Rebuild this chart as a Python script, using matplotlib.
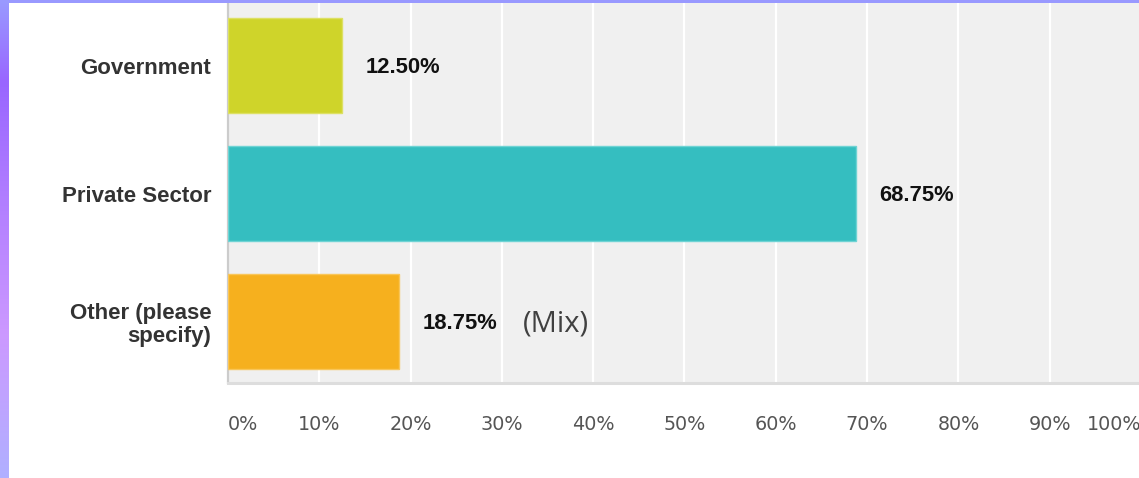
import matplotlib
matplotlib.use("Agg")
import matplotlib.pyplot as plt
import numpy as np
from matplotlib.colors import LinearSegmentedColormap

# survey answers, top to bottom
categories = ["Government", "Private Sector", "Other (please\nspecify)"]
values = [12.50, 68.75, 18.75]
bar_colors = ["#cfd42a", "#35bec0", "#f6b01e"]
edge_colors = ["#dde063", "#6fd3d4", "#f9c659"]
ticks = [0, 10, 20, 30, 40, 50, 60, 70, 80, 90, 100]
tick_labels = [f"{t}%" for t in ticks]
note = "(Mix)"

W, H = 1139, 478
fig = plt.figure(figsize=(W / 100, H / 100), dpi=100)
fig.patch.set_facecolor("white")

# plot area: 0% at x=228, 100% at x=1141, bottom axis at y=383
ax = fig.add_axes([228 / W, 1 - 383 / H, 913 / W, 383 / H])
ax.set_facecolor("#f0f0f0")

y = np.arange(len(categories))
ax.barh(y, values, height=0.742, color=bar_colors, edgecolor=edge_colors,
        linewidth=1.0, zorder=3)

ax.set_xlim(0, 100)
ax.set_ylim(2.480, -0.512)

# grid
ax.set_xticks(ticks)
ax.xaxis.grid(True, color="white", linewidth=1.6, zorder=1)
ax.set_axisbelow(True)
ax.tick_params(axis="x", length=0, pad=23, labelsize=13.8, labelcolor="#555555")
ax.set_xticklabels(tick_labels, family="DejaVu Sans")
xl = ax.get_xticklabels()
xl[0].set_horizontalalignment("left")
xl[-1].set_horizontalalignment("right")
xl[-1].set_x(0.998)

ax.set_yticks(y)
ax.set_yticklabels(categories, family="Liberation Sans", fontweight="bold",
                   fontsize=16, color="#333333", multialignment="right",
                   linespacing=1.12)
ax.tick_params(axis="y", length=0, pad=12)

for s in ("top", "right"):
    ax.spines[s].set_visible(False)
ax.spines["left"].set_color("#cccccc")
ax.spines["left"].set_linewidth(1.6)
ax.spines["bottom"].set_color("#dddddd")
ax.spines["bottom"].set_linewidth(2.2)

# value labels
for yi, v in zip(y, values):
    ax.annotate(f"{v:.2f}%", xy=(v, yi), xytext=(17, -1.5), textcoords="offset points",
                ha="left", va="center", fontsize=15.8, fontweight="bold",
                family="Liberation Sans", color="#111111", zorder=4)

ax.annotate(note, xy=(values[2], y[2]), xytext=(89, -2), textcoords="offset points",
            ha="left", va="center", fontsize=21, family="Open Sans",
            color="#404040", zorder=4)

# purple slide frame (left gradient strip and top strip)
frame = LinearSegmentedColormap.from_list(
    "frame", [(0.0, "#9a9aff"), (0.17, "#9966ff"), (0.7, "#cc99ff"), (1.0, "#b0b0ff")])
lax = fig.add_axes([0, 0, 8.5 / W, 1])
lax.imshow(np.linspace(0, 1, 256).reshape(-1, 1), cmap=frame, aspect="auto",
           extent=(0, 1, 1, 0))
lax.set_axis_off()
tax = fig.add_axes([0, 1 - 3 / H, 1, 3 / H])
tax.set_facecolor("#9999ff")
tax.set_xticks([])
tax.set_yticks([])
for s in tax.spines.values():
    s.set_visible(False)

fig.savefig("out.png", dpi=100)
